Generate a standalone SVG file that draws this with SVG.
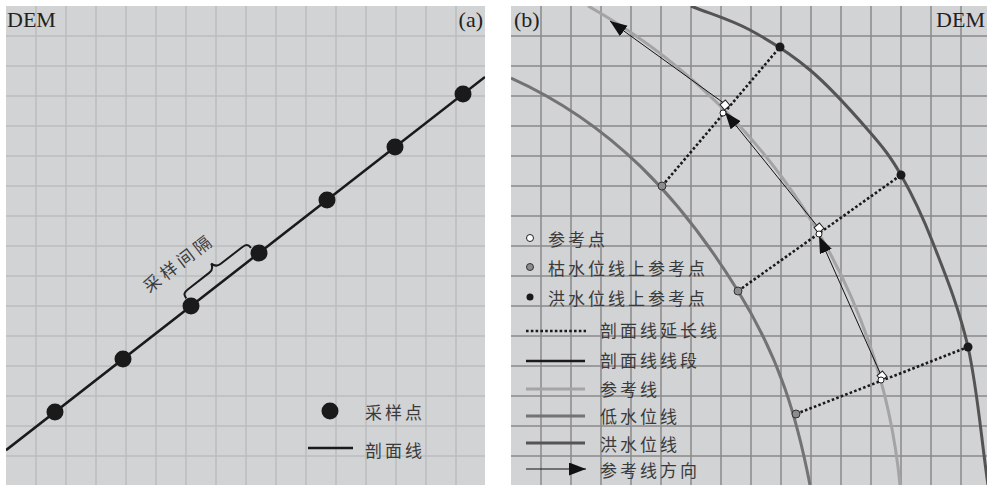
<svg xmlns="http://www.w3.org/2000/svg" width="991" height="485" viewBox="0 0 991 485">
<style>
.bg{fill:#d2d3d5}
.ga{stroke:#bcbdbf;stroke-width:1.5;fill:none}
.gb{stroke:#8b8b8b;stroke-width:1.5;fill:none}
.lat{font-family:"Liberation Serif",serif;font-size:22px;fill:#222}
.cjk{font-family:"Noto Sans CJK SC",sans-serif;font-size:17px;fill:#3a3a3a;letter-spacing:3px;dominant-baseline:central}
.dot{stroke:#1a1a1a;stroke-width:2.6;stroke-dasharray:2.6 2.2;fill:none}
.seg{stroke:#1a1a1a;stroke-width:2.5;fill:none}
.ref{stroke:#a4a4a4;stroke-width:3;fill:none}
.low{stroke:#737373;stroke-width:3;fill:none}
.fld{stroke:#545454;stroke-width:3;fill:none}
.arr{stroke:#111;stroke-width:1;fill:none;marker-end:url(#ah)}
.rp{fill:#fff;stroke:#222;stroke-width:1}
.gp{fill:#8c8c8c;stroke:#333;stroke-width:1}
.fp{fill:#1a1a1a}
.sp{fill:#1a1a1a}
</style>
<defs>
<marker id="ah" markerUnits="userSpaceOnUse" markerWidth="18" markerHeight="14" refX="17" refY="6.5" orient="auto">
<path d="M0,0 L17,6.5 L0,13 Z" fill="#111"/>
</marker>
<clipPath id="ca"><rect x="6" y="6" width="479" height="479"/></clipPath>
<clipPath id="cb"><rect x="511" y="6" width="476" height="479"/></clipPath>
</defs>

<g id="panel-a">
<rect class="bg" x="6" y="6" width="479" height="479"/>
<path class="ga" d="M36 6V485M66 6V485M96 6V485M126 6V485M156 6V485M186 6V485M216 6V485M246 6V485M276 6V485M306 6V485M336 6V485M366 6V485M396 6V485M426 6V485M456 6V485M6 36H485M6 66H485M6 96H485M6 126H485M6 156H485M6 186H485M6 216H485M6 246H485M6 276H485M6 306H485M6 336H485M6 366H485M6 396H485M6 426H485M6 456H485"/>
<text class="lat" x="7" y="27">DEM</text>
<text class="lat" x="483" y="27" text-anchor="end">(a)</text>
</g>

<g id="profile-line-a" clip-path="url(#ca)">
<line class="seg" x1="6" y1="450.2" x2="485" y2="76.9"/>
</g>

<g id="sample-points">
<circle class="sp" cx="55" cy="412" r="8.5"/>
<circle class="sp" cx="123" cy="359" r="8.5"/>
<circle class="sp" cx="191" cy="306" r="8.5"/>
<circle class="sp" cx="259" cy="253" r="8.5"/>
<circle class="sp" cx="327" cy="200" r="8.5"/>
<circle class="sp" cx="395" cy="147" r="8.5"/>
<circle class="sp" cx="463" cy="94" r="8.5"/>
</g>

<g id="interval-brace">
<path transform="translate(191,306) rotate(-37.9)" d="M1,-9 C1,-14 3,-15 8,-15 L35,-15 C39,-15 41,-17 42,-21 C43,-17 45,-15 49,-15 L76,-15 C81,-15 83,-14 83,-9" fill="none" stroke="#1a1a1a" stroke-width="2"/>
<text class="cjk" x="178" y="262" text-anchor="middle" transform="rotate(-37.5 178 262)" style="letter-spacing:4px">采样间隔</text>
</g>

<g id="legend-a">
<circle class="sp" cx="330" cy="411" r="8.5"/>
<text class="cjk" x="365" y="411">采样点</text>
<line class="seg" x1="308" y1="448" x2="353" y2="448"/>
<text class="cjk" x="365" y="449">剖面线</text>
</g>

<g id="panel-b">
<rect class="bg" x="511" y="6" width="476" height="479"/>
<path class="gb" d="M541 6V485M571 6V485M601 6V485M631 6V485M661 6V485M691 6V485M721 6V485M751 6V485M781 6V485M811 6V485M841 6V485M871 6V485M901 6V485M931 6V485M961 6V485M511 36H987M511 66H987M511 96H987M511 126H987M511 156H987M511 186H987M511 216H987M511 246H987M511 276H987M511 306H987M511 336H987M511 366H987M511 396H987M511 426H987M511 456H987"/>
<text class="lat" x="514" y="27">(b)</text>
<text class="lat" x="985" y="27" text-anchor="end">DEM</text>
</g>

<g id="curves" clip-path="url(#cb)">
<path id="low-water-line" class="low" d="M511,78 C611,123 680,197 738,291 C780,359 796.7,417.3 810,485"/>
<path id="reference-line" class="ref" d="M588,6 A617,617 0 0 1 900,485"/>
<path id="flood-line" class="fld" d="M691,6 C710.7,14 730.2,19.3 750,30 C769.8,40.7 790.3,53.3 810,70 C829.7,86.7 852.8,112.5 868,130 C883.2,147.5 890.2,156.2 901,175 C911.8,193.8 921.8,214.3 933,243 C944.2,271.7 958.8,306.7 968,347 C977.2,387.3 981.3,439 988,485"/>
</g>

<g id="connectors">
<line class="dot" x1="662" y1="186" x2="780" y2="47"/>
<line class="dot" x1="738" y1="291" x2="901" y2="175"/>
<line class="dot" x1="796" y1="414" x2="968" y2="347"/>
<line class="arr" x1="725" y1="104" x2="610" y2="21"/>
<line class="arr" x1="818" y1="227" x2="725" y2="112"/>
<line class="arr" x1="881" y1="375" x2="819" y2="236"/>
</g>

<g id="reference-points">
<rect class="rp" x="-3.5" y="-3.5" width="7" height="7" transform="translate(725,105) rotate(-40)"/>
<circle class="rp" cx="723" cy="113" r="3"/>
<rect class="rp" x="-3.5" y="-3.5" width="7" height="7" transform="translate(819,228) rotate(-40)"/>
<circle class="rp" cx="819" cy="234" r="3"/>
<rect class="rp" x="-3.5" y="-3.5" width="7" height="7" transform="translate(882,376) rotate(-40)"/>
<circle class="rp" cx="881" cy="380" r="3"/>
</g>

<g id="low-water-points">
<circle class="gp" cx="662" cy="186" r="4"/>
<circle class="gp" cx="738" cy="291" r="4"/>
<circle class="gp" cx="796" cy="414" r="4"/>
</g>

<g id="flood-points">
<circle class="fp" cx="780" cy="47" r="4.5"/>
<circle class="fp" cx="901" cy="175" r="4.5"/>
<circle class="fp" cx="968" cy="347" r="4.5"/>
</g>

<g id="legend-b">
<circle class="rp" cx="530" cy="238" r="3.5"/>
<text class="cjk" x="548" y="238">参考点</text>
<circle class="gp" cx="530" cy="267" r="3.5"/>
<text class="cjk" x="548" y="267">枯水位线上参考点</text>
<circle class="fp" cx="530" cy="297" r="3.5"/>
<text class="cjk" x="548" y="297">洪水位线上参考点</text>
<line class="dot" x1="526" y1="331" x2="586" y2="331"/>
<text class="cjk" x="600" y="329">剖面线延长线</text>
<line class="seg" x1="526" y1="361" x2="585" y2="361"/>
<text class="cjk" x="600" y="359">剖面线线段</text>
<line class="ref" x1="526" y1="389" x2="585" y2="389"/>
<text class="cjk" x="600" y="388">参考线</text>
<line class="low" x1="526" y1="416" x2="585" y2="416"/>
<text class="cjk" x="600" y="415">低水位线</text>
<line class="fld" x1="526" y1="443" x2="585" y2="443"/>
<text class="cjk" x="600" y="443">洪水位线</text>
<line class="arr" x1="526" y1="469" x2="586" y2="469"/>
<text class="cjk" x="600" y="469">参考线方向</text>
</g>
</svg>
